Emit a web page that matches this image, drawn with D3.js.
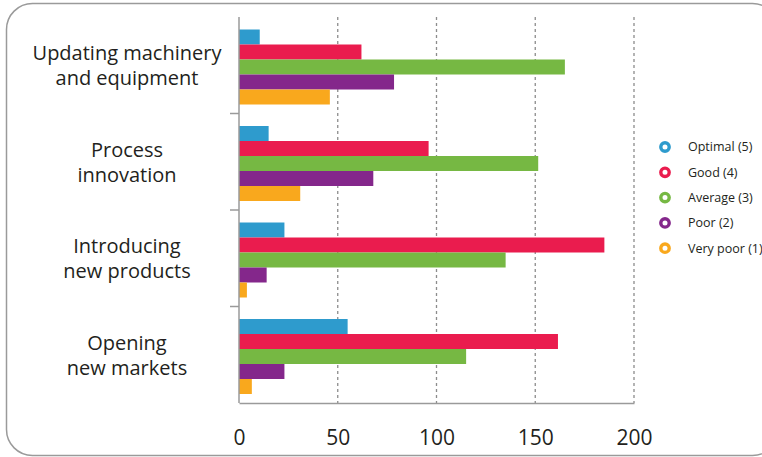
<!DOCTYPE html>
<html>
<head>
<meta charset="utf-8">
<script src="https://cdn.jsdelivr.net/npm/d3@7"></script>
<style>
	body { margin: 0; background: #fff; }
	svg { display: block; font-family: "Open Sans", sans-serif; }
</style>
</head>
<body>
<svg id="chart" width="762" height="457"></svg>
<script>
// data
var categories = [
	["Updating machinery", "and equipment"],
	["Process", "innovation"],
	["Introducing", "new products"],
	["Opening", "new markets"]
];
var series = ["Optimal (5)", "Good (4)", "Average (3)", "Poor (2)", "Very poor (1)"];
var colors = ["#2e9bcd", "#ea1c4e", "#76b843", "#84278b", "#f9a81d"];
var optimal = [10.5, 15, 23, 55];
var good = [62, 96, 185, 161.5];
var average = [165, 151.5, 135, 115];
var poor = [78.5, 68, 14, 23];
var veryPoor = [46, 31, 4, 6.5];
var xTicks = [0, 50, 100, 150, 200];

var values = [optimal, good, average, poor, veryPoor];

var svg = d3.select('#chart');

var plotLeft = 239, plotRight = 634, plotTop = 17, plotBottom = 403;

// frame
svg.append('rect')
	.attr('x', 6.5).attr('y', 3.5)
	.attr('width', 772).attr('height', 452)
	.attr('rx', 26).attr('ry', 26)
	.attr('fill', 'none')
	.attr('stroke', '#9a9a9a')
	.attr('stroke-width', 1.5);

var x = d3.scaleLinear().domain([0, 200]).range([plotLeft, plotRight]);

var y0 = d3.scaleBand()
	.domain(d3.range(categories.length))
	.range([plotTop, plotBottom]);

var y1 = d3.scaleBand()
	.domain(d3.range(series.length))
	.range([12.5, 87.5]);

// grid
svg.append('g')
	.selectAll('line')
	.data(xTicks.slice(1))
	.enter()
		.append('line')
			.attr('x1', function(d) { return x(d); })
			.attr('x2', function(d) { return x(d); })
			.attr('y1', plotTop)
			.attr('y2', plotBottom)
			.attr('stroke', '#8c8c8c')
			.attr('stroke-width', 1.3)
			.attr('stroke-dasharray', '3,3');

// bars
var groups = svg.append('g')
	.selectAll('g')
	.data(categories)
	.enter()
		.append('g')
			.attr('transform', function(d, i) { return 'translate(0,' + y0(i) + ')'; });

groups.selectAll('rect')
	.data(function(d, i) { return values.map(function(s, j) { return {s: j, v: s[i]}; }); })
	.enter()
		.append('rect')
			.attr('x', x(0))
			.attr('y', function(d) { return y1(d.s); })
			.attr('width', function(d) { return x(d.v) - x(0); })
			.attr('height', y1.bandwidth())
			.attr('fill', function(d) { return colors[d.s]; });

// axes
var xAxis = svg.append('g')
	.attr('transform', 'translate(0,' + plotBottom + ')')
	.call(d3.axisBottom(x).tickValues(xTicks).tickSize(0).tickPadding(27));
xAxis.select('.domain').attr('stroke', '#9a9a9a').attr('stroke-width', 1.5);
xAxis.selectAll('text')
	.attr('font-size', 21)
	.attr('font-family', '"Open Sans", sans-serif')
	.attr('fill', '#231f20');

svg.append('line')
	.attr('x1', plotLeft).attr('x2', plotLeft)
	.attr('y1', plotTop).attr('y2', plotBottom)
	.attr('stroke', '#9a9a9a')
	.attr('stroke-width', 1.5);

svg.append('g')
	.selectAll('line')
	.data(d3.range(1, categories.length))
	.enter()
		.append('line')
			.attr('x1', plotLeft - 9).attr('x2', plotLeft)
			.attr('y1', function(d) { return y0(d); })
			.attr('y2', function(d) { return y0(d); })
			.attr('stroke', '#9a9a9a')
			.attr('stroke-width', 1.5);

// category labels
var labels = svg.append('g')
	.selectAll('text')
	.data(categories)
	.enter()
		.append('text')
			.attr('text-anchor', 'middle')
			.attr('font-size', 20)
			.attr('fill', '#231f20');

labels.selectAll('tspan')
	.data(function(d, i) { return d.map(function(t, k) { return {t: t, k: k, i: i}; }); })
	.enter()
		.append('tspan')
			.attr('x', 127)
			.attr('y', function(d) { return y0(d.i) + 43 + d.k * 25; })
			.text(function(d) { return d.t; });

// legend
var legend = svg.append('g')
	.selectAll('g')
	.data(series)
	.enter()
		.append('g')
			.attr('transform', function(d, i) { return 'translate(665,' + (147 + i * 25.3) + ')'; });

legend.append('circle')
	.attr('r', 4.2)
	.attr('fill', '#fff')
	.attr('stroke', function(d, i) { return colors[i]; })
	.attr('stroke-width', 3.4);

legend.append('text')
	.attr('x', 23)
	.attr('dy', '0.35em')
	.attr('font-size', 12.5)
	.attr('fill', '#231f20')
	.text(function(d) { return d; });
</script>
</body>
</html>
